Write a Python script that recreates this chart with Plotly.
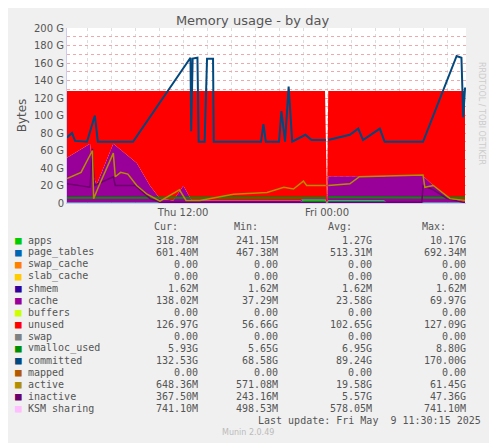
import plotly.graph_objects as go

# ---------------- DATA (hours since Thu 00:00, values in G) ----------------
area_t = [2.33, 4.25, 4.53, 4.8, 6.19, 8.14, 9.25, 10.08, 11.19, 12.03, 12.72,
          21.75, 22.03, 23.83, 24.0, 24.1, 28.7, 28.97, 32.0, 32.86, 34.25, 35.5]
apps = [0.3, 0.3, 0.3, 0.3, 0.3, 0.3, 0.3, 0.3, 0.3, 0.3, 0.3,
        0.3, 3.5, 3.5, None, 3.0, 3.0, 0.3, 0.3, 0.3, 0.3, 0.3]
page_tables = [0.5, 0.5, 0.5, 0.5, 0.5, 0.5, 0.5, 0.5, 0.5, 0.5, 0.5,
               0.5, 0.5, 0.5, None, 0.5, 0.5, 0.5, 0.5, 0.6, 0.6, 0.6]
cache = [51, 67, 30, 20, 67, 45, 19, 4, 2, 19, 2,
         2, 0.5, 0.5, None, 27, 27, 30, 30, 19, 4, 0.2]
total_mem = 128

comm_t = [2.33, 2.75, 3.0, 4.0, 4.65, 4.9, 7.83, 12.58, 12.62, 12.68, 12.8, 13.2, 13.3,
          13.8, 14.0, 14.5, 14.56, 18.5, 18.7, 18.9, 20.0, 20.2, 20.5, 20.8, 21.1,
          22.2, 22.7, 23.9, 24.0, 24.1, 25.9, 26.6, 27.0, 28.4, 28.8, 32.0, 34.8,
          35.2, 35.35, 35.5]
committed = [75, 80, 71, 70, 100, 70, 70, 166, 166, 82, 165, 166, 70,
             70, 165, 165, 70, 70, 90, 70, 70, 105, 70, 133, 70,
             78, 72, 72, None, 72, 78, 85, 72, 85, 70, 70, 168,
             166, 98, 132]

act_t = [2.33, 3.5, 4.45, 4.55, 5.0, 6.19, 6.35, 6.8, 7.4, 8.14, 9.0, 10.08, 11.7,
         12.25, 13.4, 16.2, 19.0, 20.4, 21.2, 22.03, 22.3, 23.9, 24.0, 24.1, 25.9,
         26.7, 32.0, 32.15, 32.86, 34.25, 35.5]
active = [28, 35, 60, 5, 20, 57, 30, 35, 33, 20, 10, 2, 15,
          3, 3, 10, 12, 18, 16, 25, 20, 20, None, 20, 22,
          30, 32, 18, 20, 5, 3]

inact_t = [2.33, 4.25, 4.45, 4.6, 6.19, 6.35, 8.0, 9.25, 10.08, 23.9, 24.0, 24.1,
           31.9, 32.0, 32.86, 34.0, 35.5]
inactive = [22, 18, 62, 20, 30, 20, 20, 5, 1, 1, None, 1,
            1, 20, 15, 5, 0.4]

vm_t = [2.33, 23.9, 24.0, 24.1, 35.5]
vmalloc_used = [6, 6, None, 6.5, 5.9]

# legend table
legend_names = ["apps", "page_tables", "swap_cache", "slab_cache", "shmem", "cache",
                "buffers", "unused", "swap", "vmalloc_used", "committed", "mapped",
                "active", "inactive", "KSM sharing"]
legend_colors = ["#00cc00", "#0066b3", "#ff8000", "#ffcc00", "#330099", "#990099",
                 "#ccff00", "#ff0000", "#808080", "#008f00", "#00487d", "#b35a00",
                 "#b38f00", "#6b006b", "#ffbfff"]
cur = ["318.78M", "601.40M", "0.00", "0.00", "1.62M", "138.02M", "0.00", "126.97G",
       "0.00", "5.93G", "132.53G", "0.00", "648.36M", "367.50M", "741.10M"]
mins = ["241.15M", "467.38M", "0.00", "0.00", "1.62M", "37.29M", "0.00", "56.66G",
        "0.00", "5.65G", "68.58G", "0.00", "571.08M", "243.16M", "498.53M"]
avgs = ["1.27G", "513.31M", "0.00", "0.00", "1.62M", "23.58G", "0.00", "102.65G",
        "0.00", "6.95G", "89.24G", "0.00", "19.58G", "5.57G", "578.05M"]
maxs = ["10.17G", "692.34M", "0.00", "0.00", "1.62M", "69.97G", "0.00", "127.09G",
        "0.00", "8.80G", "170.00G", "0.00", "61.45G", "47.36G", "741.10M"]

# ---------------- FIGURE ----------------
unused = [None if a is None else total_mem - a - p - c
          for a, p, c in zip(apps, page_tables, cache)]

fig = go.Figure()
for name, vals, col in [("apps", apps, "#00cc00"), ("page_tables", page_tables, "#0066b3"),
                        ("cache", cache, "#990099"), ("unused", unused, "#ff0000")]:
    fig.add_trace(go.Scatter(x=area_t, y=vals, mode="lines", stackgroup="mem",
                             line=dict(width=0, color=col), fillcolor=col, name=name))

fig.add_trace(go.Scatter(x=vm_t, y=vmalloc_used, mode="lines",
                         line=dict(color="#008f00", width=2)))
fig.add_trace(go.Scatter(x=inact_t, y=inactive, mode="lines",
                         line=dict(color="#6b006b", width=1.5)))
fig.add_trace(go.Scatter(x=act_t, y=active, mode="lines",
                         line=dict(color="#b38f00", width=1.5)))
fig.add_trace(go.Scatter(x=comm_t, y=committed, mode="lines",
                         line=dict(color="#00487d", width=2)))

# page body has an 8px margin, so the figure is drawn 8px smaller and offset
OFF = 8
W, H = 497 - OFF, 443 - OFF
L, T = 67 - OFF, 28 - OFF
R, B = 31, 240
pw, ph = W - L - R, H - T - B

def px_x(px):
    return (px - OFF - L) / pw

def px_y(py):
    return (H - B - (py - OFF)) / ph

mono = "DejaVu Sans Mono"
ann = []
cols = [(180, "Cur:"), (260, "Min:"), (354, "Avg:"), (448, "Max:")]
for cx, txt in cols:
    ann.append(dict(x=px_x(cx), y=px_y(226), text=txt, xanchor="right"))
for i, name in enumerate(legend_names):
    yy = 240 + i * 12
    ann.append(dict(x=px_x(13), y=px_y(yy), text="■", xanchor="left",
                    font=dict(color=legend_colors[i], size=11, family=mono)))
    ann.append(dict(x=px_x(26), y=px_y(yy), text=name, xanchor="left"))
    for (cx, _), v in zip(cols, [cur[i], mins[i], avgs[i], maxs[i]]):
        ann.append(dict(x=px_x(cx + 20), y=px_y(yy), text=v, xanchor="right"))
ann.append(dict(x=px_x(483), y=px_y(420), text="Last update: Fri May  9 11:30:15 2025",
                xanchor="right"))
ann.append(dict(x=px_x(248), y=px_y(432), text="Munin 2.0.49",
                font=dict(family="DejaVu Sans", size=8, color="#bbbbbb")))
for a in ann:
    a.update(xref="paper", yref="paper", showarrow=False, yanchor="middle")
    a.setdefault("font", dict(family=mono, size=10, color="#555555"))
ann.append(dict(x=px_x(488), y=px_y(60), xref="paper", yref="paper", showarrow=False,
                text="RRDTOOL / TOBI OETIKER", textangle=90, yanchor="top",
                font=dict(family="DejaVu Sans", size=8, color="#cccccc")))

xt = list(range(4, 36, 2))
fig.update_layout(
    width=W, height=H, margin=dict(l=L, r=R, t=T, b=B),
    paper_bgcolor="#f0f0f0", plot_bgcolor="white", showlegend=False,
    title=dict(text="Memory usage - by day", x=0.5, y=1 - 12 / H, xanchor="center",
               yanchor="middle",
               font=dict(family="DejaVu Sans", size=13, color="#555555")),
    font=dict(family="DejaVu Sans", size=10, color="#555555"),
    annotations=ann,
    xaxis=dict(range=[2.33, 35.58], tickvals=xt,
               ticktext=["Thu 12:00" if v == 12 else "Fri 00:00" if v == 24 else "" for v in xt],
               showgrid=True, gridcolor="#dddddd", griddash="dot", zeroline=False,
               ticks="", showline=True, linecolor="#ccccee"),
    yaxis=dict(range=[0, 200], tickvals=list(range(0, 201, 10)),
               ticktext=[("0" if v == 0 else f"{v} G") if v % 20 == 0 else "" for v in range(0, 201, 10)],
               showgrid=True, gridcolor="#eeaaaa", griddash="dot", zeroline=False,
               title=dict(text="Bytes", standoff=4), ticks="",
               showline=True, linecolor="#ccccee"),
)

fig.write_html("out.html")
